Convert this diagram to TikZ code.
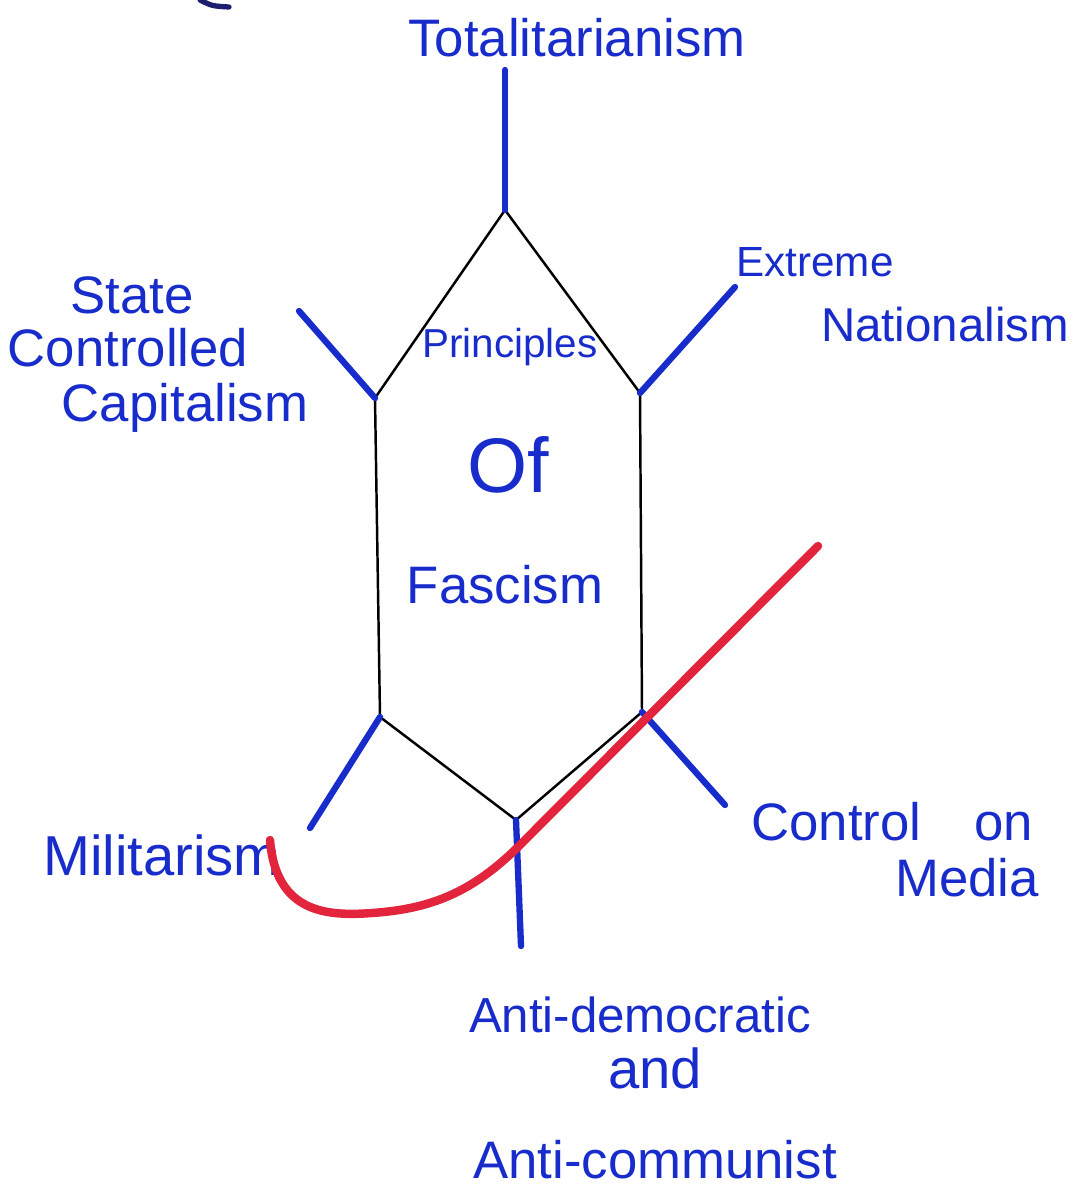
\documentclass[tikz,border=0pt]{standalone}
\usepackage{fontspec}
\setsansfont{Liberation Sans}
\RequirePackage{xcolor}
\definecolor{inkblue}{RGB}{24,44,204}
\definecolor{inknavy}{RGB}{30,30,110}
\definecolor{markred}{RGB}{226,36,60}
\tikzset{every picture/.style={/utils/exec={\sffamily}}}
\usetikzlibrary{calc}
\usetikzlibrary{positioning}

\begin{document}
\begin{tikzpicture}[x=0.01cm, y=-0.01cm,
    edge/.style={draw=black, line width=0.7pt},
    spoke/.style={draw=inkblue, line width=1.8pt, line cap=round},
    lbl/.style={text=inkblue, inner sep=1pt, font=\fontsize{15}{18}\selectfont},
    redmark/.style={draw=markred, line width=2.4pt, line cap=round}]
  \useasboundingbox (0,0) rectangle (1072,1185);

  % hexagon corners
  \coordinate (top) at (505,210);
  \coordinate (ur) at (640,393);
  \coordinate (lr) at (642,712);
  \coordinate (bot) at (516,820);
  \coordinate (ll) at (380,717);
  \coordinate (ul) at (375,398);

  % spoke ends
  \coordinate (topend) at (505,70);
  \coordinate (urend) at (735,287);
  \coordinate (lrend) at (725,805);
  \coordinate (botend) at (521,946);
  \coordinate (llend) at (310,828);
  \coordinate (ulend) at (299,311);

  \draw [edge] (top) -- (ur) -- (lr) -- (bot) -- (ll) -- (ul) -- cycle;

  \draw [spoke] (top) -- (topend);
  \draw [spoke] (ur) -- (urend);
  \draw [spoke] (lr) -- (lrend);
  \draw [spoke] (bot) -- (botend);
  \draw [spoke] (ll) -- (llend);
  \draw [spoke] (ul) -- (ulend);

  \node [lbl] (totl) at (577,38) {Totalitarianism};

  \node [lbl] (state) at (132,295) {State};
  \node [lbl] (controlled) at (128,348) {Controlled};
  \node [lbl] (capitalism) at (185,408) {Capitalism};

  \node [lbl, font=\fontsize{12}{14}\selectfont] (extreme) at (815,262) {Extreme};
  \node [lbl, font=\fontsize{13.5}{16}\selectfont] (national) at (945,325) {Nationalism};

  \node [lbl, font=\fontsize{11.5}{14}\selectfont] (princ) at (510,347) {Principles};
  \node [lbl, font=\fontsize{22}{26}\selectfont] (of) at (508,465) {Of};
  \node [lbl] (fascism) at (505,585) {Fascism};

  \node [lbl, font=\fontsize{16}{19}\selectfont] (milit) at (162,855) {Militarism};

  \node [lbl] (control) at (892,822) {Control\quad on};
  \node [lbl] (media) at (967,878) {Media};

  \node [lbl, font=\fontsize{14}{17}\selectfont] (antidem) at (640,1015) {Anti-democratic};
  \node [lbl, font=\fontsize{16}{19}\selectfont] (and) at (655,1068) {and};
  \node [lbl] (anticom) at (655,1160) {Anti-communist};

  % red stroke over the picture
  \draw [redmark] (270,840) .. controls (276,915) and (330,916) .. (372,913)
        .. controls (430,909) and (472,893) .. (520,845) -- (818,546);

  % pen mark, top edge
  \draw [draw=inknavy, line width=1.5pt, line cap=round] (200,0) .. controls (212,6) .. (229,7);
\end{tikzpicture}
\end{document}
